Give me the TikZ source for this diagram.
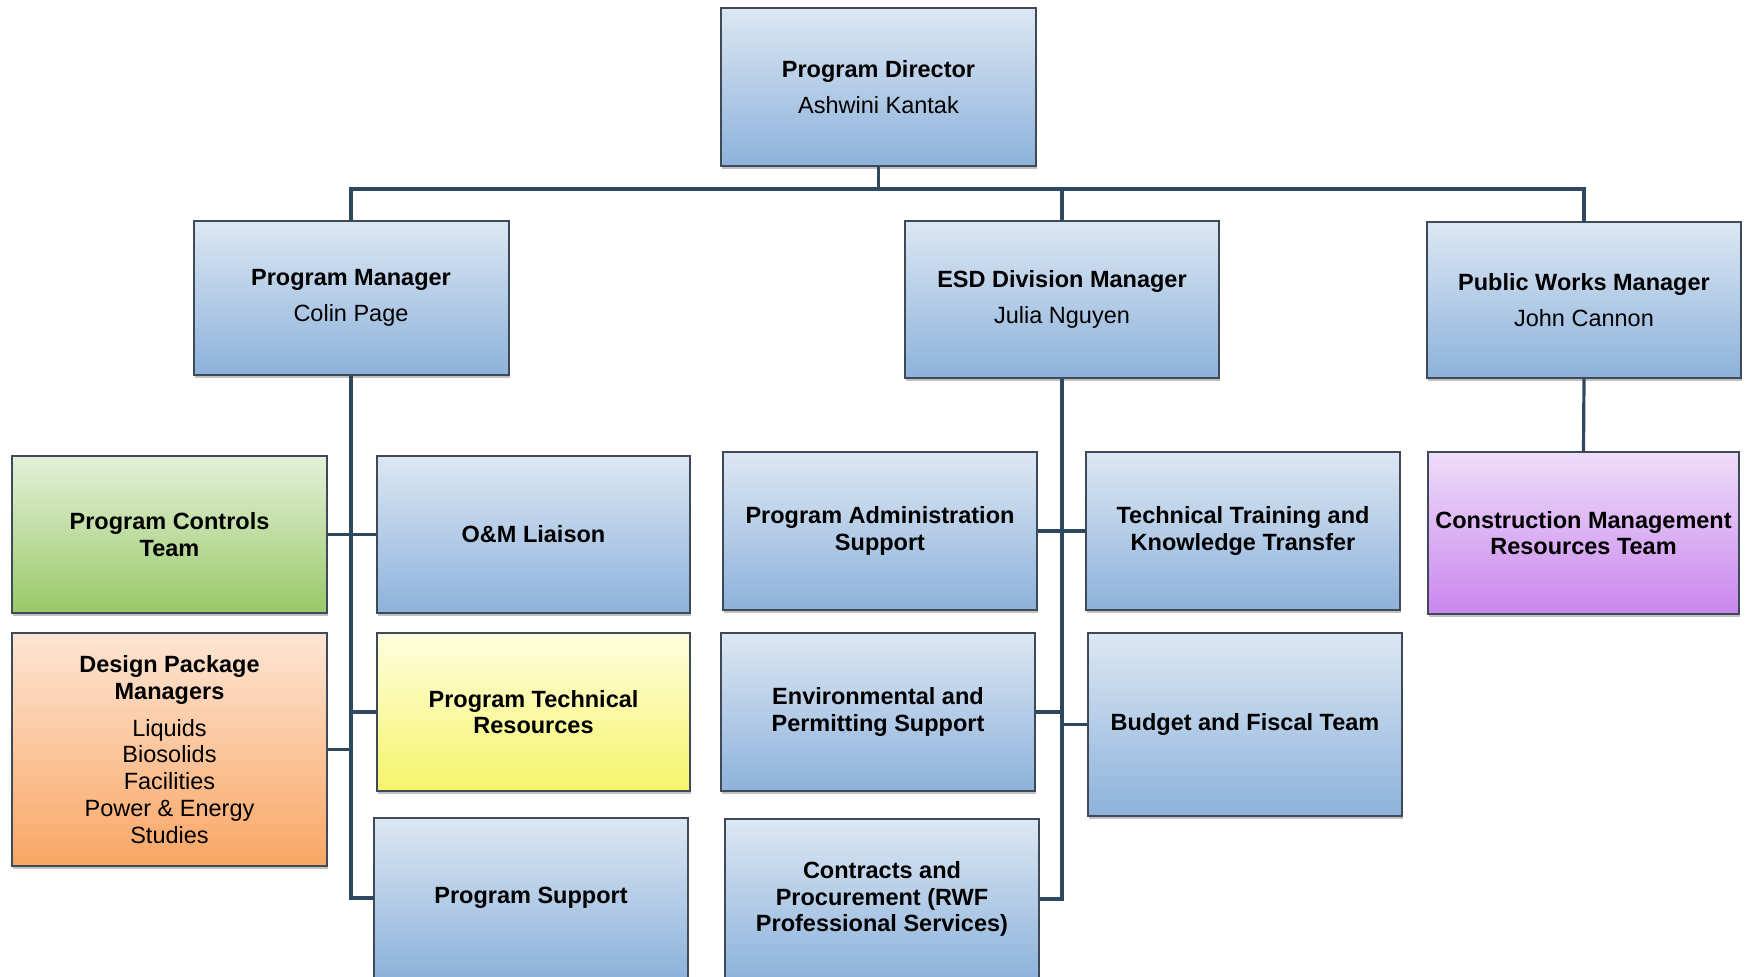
\documentclass[tikz,border=0pt]{standalone}
\usepackage{fontspec}
\setmainfont{Liberation Sans}
\usetikzlibrary{shadows}
\definecolor{blueT}{HTML}{DCE7F3}
\definecolor{blueB}{HTML}{8DB2DB}
\definecolor{greenT}{HTML}{E4F0D9}
\definecolor{greenB}{HTML}{99C968}
\definecolor{orangeT}{HTML}{FDE5D4}
\definecolor{orangeB}{HTML}{F9A664}
\definecolor{yellowT}{HTML}{FEFEDE}
\definecolor{yellowB}{HTML}{F6F46A}
\definecolor{purpleT}{HTML}{EEDDF9}
\definecolor{purpleB}{HTML}{CA86EE}
\definecolor{boxline}{HTML}{3E4A58}
\definecolor{connline}{HTML}{2E4860}
\begin{document}
\begin{tikzpicture}[x=0.5pt,y=-0.5pt,
  box/.style={draw=boxline, line width=1pt, rectangle, inner sep=0pt, align=center,
    font=\fontsize{11.75}{13.4}\selectfont,
    drop shadow={shadow xshift=0.7pt, shadow yshift=-1.3pt, opacity=0.35, fill=black!70}},
  bluebox/.style={box, top color=blueT, bottom color=blueB},
  greenbox/.style={box, top color=greenT, bottom color=greenB},
  orangebox/.style={box, top color=orangeT, bottom color=orangeB},
  yellowbox/.style={box, top color=yellowT, bottom color=yellowB},
  purplebox/.style={box, top color=purpleT, bottom color=purpleB},
  conn/.style={draw=connline, line width=1.6pt}]
\useasboundingbox (0,0) rectangle (1752,976);

% level 0
\node[bluebox, minimum width=157.5pt, minimum height=79pt] (PD) at (878.5,87)
  {\textbf{Program Director}\\[4.5pt]Ashwini Kantak};
% level 1
\node[bluebox, minimum width=157.5pt, minimum height=77pt] (PM) at (351,298)
  {\textbf{Program Manager}\\[4.5pt]Colin Page};
\node[bluebox, minimum width=157pt, minimum height=78.5pt] (ESD) at (1062,299.5)
  {\textbf{ESD Division Manager}\\[4.5pt]Julia Nguyen};
\node[bluebox, minimum width=157pt, minimum height=78pt] (PW) at (1584,300)
  {\textbf{Public Works Manager}\\[4.5pt]John Cannon};
% level 2 - program manager
\node[greenbox, minimum width=157.5pt, minimum height=78.5pt] (PCT) at (169.5,534.5)
  {\textbf{Program Controls}\\\textbf{Team}};
\node[bluebox, minimum width=156.5pt, minimum height=78.5pt] (OM) at (533.5,534.5)
  {\textbf{O\&M Liaison}};
\node[orangebox, minimum width=157.5pt, minimum height=116.5pt] (DPM) at (169.5,749.5)
  {\textbf{Design Package}\\\textbf{Managers}\\[5pt]Liquids\\Biosolids\\Facilities\\Power \& Energy\\Studies};
\node[yellowbox, minimum width=156.5pt, minimum height=79pt] (PTR) at (533.5,712)
  {\textbf{Program Technical}\\\textbf{Resources}};
\node[bluebox, minimum width=157pt, minimum height=80pt] (PS) at (531,898)
  {\textbf{Program Support}};
% level 2 - ESD
\node[bluebox, minimum width=157pt, minimum height=79pt] (PAS) at (880,531)
  {\textbf{Program Administration}\\\textbf{Support}};
\node[bluebox, minimum width=157pt, minimum height=79pt] (TTK) at (1243,531)
  {\textbf{Technical Training and}\\\textbf{Knowledge Transfer}};
\node[bluebox, minimum width=157pt, minimum height=79pt] (EPS) at (878,712)
  {\textbf{Environmental and}\\\textbf{Permitting Support}};
\node[bluebox, minimum width=157pt, minimum height=91.5pt] (BFT) at (1245,724.5)
  {\textbf{Budget and Fiscal Team}};
\node[bluebox, minimum width=157pt, minimum height=80pt] (CP) at (882,899)
  {\textbf{Contracts and}\\\textbf{Procurement (RWF}\\\textbf{Professional Services)}};
% level 2 - public works
\node[purplebox, minimum width=155.5pt, minimum height=81pt] (CMR) at (1583.5,533)
  {\textbf{Construction Management}\\\textbf{Resources Team}};

% connectors
\coordinate (bus) at (878.5,189);
\draw[conn] (PD.south) -- (bus);
\draw[conn] (PM.north) |- (bus) -| (PW.north);
\draw[conn] (bus -| ESD.north) -- (ESD.north);

\draw[conn] (PM.south) |- (PS.west);
\draw[conn] (PCT.east) -- (OM.west);
\draw[conn] (DPM.east) -- (DPM.east -| PM.south);
\draw[conn] (PTR.west) -- (PTR.west -| PM.south);

\draw[conn] (ESD.south) |- (CP.east);
\draw[conn] (PAS.east) -- (TTK.west);
\draw[conn] (EPS.east) -- (EPS.east -| ESD.south);
\draw[conn] (BFT.west) -- (BFT.west -| ESD.south);

\draw[conn] (PW.south) -- (CMR.north);
\end{tikzpicture}
\end{document}
